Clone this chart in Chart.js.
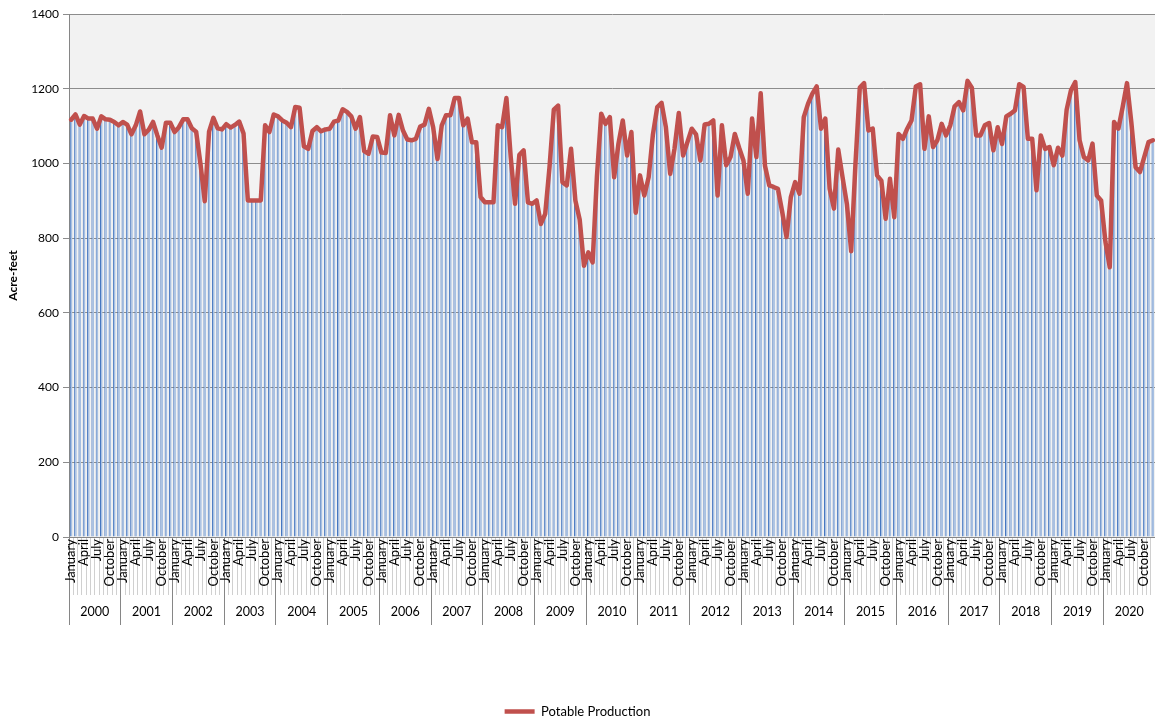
<!DOCTYPE html>
<html>
<head>
<meta charset="utf-8">
<script src="https://cdn.jsdelivr.net/npm/chart.js@4.4.1/dist/chart.umd.min.js"></script>
<style>
  html, body { margin: 0; padding: 0; background: #ffffff; }
  #wrap { width: 1155px; height: 721px; }
</style>
</head>
<body>
<div id="wrap"><canvas id="grafica"></canvas></div>
<script>
const meses = ['January', 'February', 'March', 'April', 'May', 'June',
  'July', 'August', 'September', 'October', 'November', 'December'];
const anios = ['2000', '2001', '2002', '2003', '2004', '2005', '2006', '2007', '2008', '2009', '2010',
  '2011', '2012', '2013', '2014', '2015', '2016', '2017', '2018', '2019', '2020'];

// acre-feet per month, one row per year (Jan..Dec)
const produccion = [
  1117, 1131, 1104, 1127, 1120, 1120, 1093, 1126, 1118, 1117, 1111, 1102, // 2000
  1111, 1104, 1078, 1102, 1139, 1078, 1090, 1111, 1075, 1042, 1109, 1109, // 2001
  1084, 1097, 1118, 1118, 1094, 1085, 1000, 899, 1085, 1122, 1094, 1091,  // 2002
  1105, 1096, 1103, 1112, 1080, 901, 901, 901, 901, 1102, 1084, 1131,      // 2003
  1126, 1115, 1109, 1097, 1151, 1149, 1046, 1039, 1087, 1097, 1086, 1091, // 2004
  1093, 1112, 1115, 1145, 1138, 1126, 1093, 1124, 1033, 1026, 1072, 1071, // 2005
  1029, 1028, 1129, 1075, 1130, 1088, 1064, 1062, 1066, 1099, 1104, 1146, // 2006
  1097, 1012, 1102, 1129, 1129, 1175, 1175, 1102, 1120, 1057, 1057, 910,  // 2007
  896, 896, 896, 1102, 1097, 1175, 1017, 892, 1023, 1035, 896, 892,       // 2008
  901, 838, 865, 990, 1144, 1155, 950, 941, 1039, 901, 850, 726,          // 2009
  762, 735, 965, 1133, 1106, 1124, 963, 1053, 1115, 1021, 1084, 868,      // 2010
  968, 914, 963, 1078, 1151, 1162, 1097, 972, 1039, 1135, 1021, 1057,     // 2011
  1093, 1078, 1008, 1104, 1106, 1115, 914, 1102, 995, 1017, 1079, 1042,   // 2012
  1008, 919, 1120, 1017, 1188, 994, 941, 937, 932, 870, 803, 910,         // 2013
  950, 919, 1124, 1160, 1187, 1206, 1093, 1120, 932, 879, 1037, 963,      // 2014
  892, 765, 1000, 1203, 1215, 1088, 1093, 968, 954, 852, 959, 856,        // 2015
  1079, 1066, 1093, 1115, 1206, 1212, 1039, 1126, 1044, 1062, 1106, 1075, // 2016
  1102, 1153, 1164, 1142, 1221, 1203, 1075, 1075, 1102, 1108, 1035, 1097, // 2017
  1052, 1126, 1133, 1142, 1212, 1205, 1066, 1066, 928, 1075, 1039, 1044,  // 2018
  995, 1042, 1021, 1144, 1196, 1218, 1062, 1017, 1008, 1053, 914, 901,    // 2019
  790, 722, 1111, 1093, 1151, 1215, 1111, 990, 977, 1017, 1057, 1062      // 2020
];

const etiquetas = [];
anios.forEach(a => meses.forEach(m => etiquetas.push(m + ' ' + a)));

const fuente = 'Lato, "Open Sans", sans-serif';

// gray fill behind the plot area
const fondoPlot = {
  id: 'fondoPlot',
  beforeDraw(chart) {
    const { ctx, chartArea } = chart;
    ctx.save();
    ctx.fillStyle = '#f2f2f2';
    ctx.fillRect(chartArea.left, chartArea.top, chartArea.right - chartArea.left, chartArea.bottom - chartArea.top);
    ctx.restore();
  }
};

const ctx = document.getElementById('grafica').getContext('2d');
const configuracion = {
  data: {
    labels: etiquetas,
    datasets: [{
      type: 'line',
      label: 'Potable Production',
      data: produccion,
      borderColor: '#c0504d',
      backgroundColor: '#c0504d',
      borderWidth: 4.5,
      borderJoinStyle: 'round',
      borderCapStyle: 'round',
      pointRadius: 0,
      tension: 0,
      order: 0
    }, {
      type: 'bar',
      label: 'bars',
      data: produccion,
      backgroundColor: '#a7c0e2',
      borderColor: '#4576c0',
      borderWidth: { left: 1, right: 0, top: 0, bottom: 0 },
      borderSkipped: false,
      categoryPercentage: 1,
      barPercentage: 0.62,
      order: 1
    }]
  },
  options: {
    responsive: true,
    maintainAspectRatio: false,
    animation: false,
    layout: { padding: { top: 14, right: 0, bottom: -7, left: 0 } },
    scales: {
      x: {
        type: 'category',
        position: 'bottom',
        weight: 0,
        offset: true,
        grid: {
          drawOnChartArea: false,
          offset: true,
          tickLength: 58,
          color: c => (c.index % 12 === 0 ? '#868686' : '#d0d0d0')
        },
        border: { display: true, color: '#868686' },
        ticks: {
          autoSkip: false,
          minRotation: 90,
          maxRotation: 90,
          padding: -56,
          color: '#000000',
          font: { family: fuente, size: 13 },
          callback: (v, i) => (i % 3 === 0 ? meses[i % 12] : '')
        },
        afterFit: s => { s.height = 58; }
      },
      anio: {
        type: 'category',
        position: 'bottom',
        weight: 1,
        labels: anios,
        offset: true,
        grid: {
          drawOnChartArea: false,
          offset: true,
          tickLength: 30,
          color: '#868686'
        },
        border: { display: false },
        ticks: {
          autoSkip: false,
          maxRotation: 0,
          padding: -21,
          color: '#000000',
          font: { family: fuente, size: 12.5 }
        },
        afterFit: s => { s.height = 107; }
      },
      y: {
        min: 0,
        max: 1400,
        ticks: {
          stepSize: 200,
          padding: 4,
          color: '#000000',
          font: { family: fuente, size: 12 },
          callback: v => String(v)
        },
        grid: { color: '#8c8c8c', tickLength: 6 },
        border: { color: '#868686' },
        title: {
          display: true,
          text: 'Acre-feet',
          color: '#000000',
          font: { family: fuente, size: 12, weight: 'bold' },
          padding: { top: 6, bottom: 0 }
        },
        afterFit: s => { s.width = 69; }
      }
    },
    plugins: {
      legend: {
        display: true,
        position: 'bottom',
        labels: {
          filter: item => item.datasetIndex === 0,
          usePointStyle: true,
          pointStyle: 'line',
          pointStyleWidth: 30,
          padding: 3,
          color: '#000000',
          font: { family: fuente, size: 13 }
        }
      },
      tooltip: { enabled: false }
    }
  },
  plugins: [fondoPlot]
};
var grafica = new Chart(ctx, configuracion);
</script>
</body>
</html>
